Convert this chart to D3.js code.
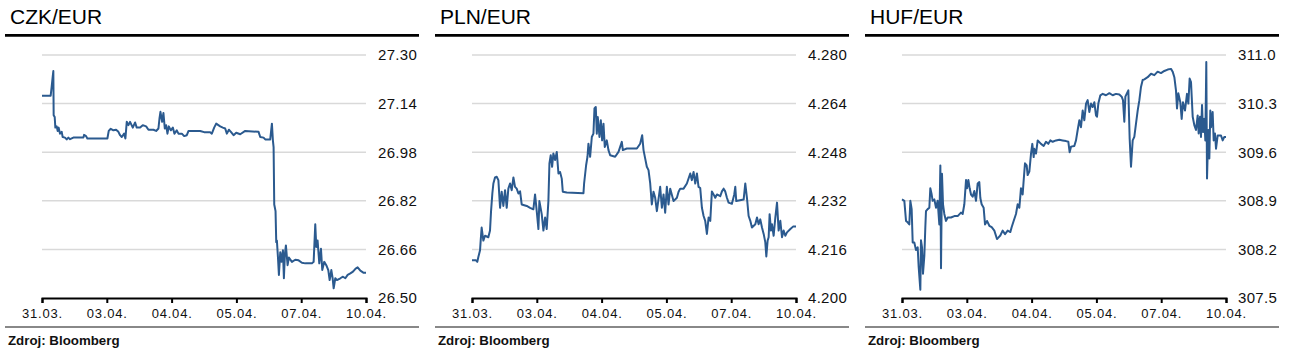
<!DOCTYPE html>
<html>
<head>
<meta charset="utf-8">
<script src="https://cdn.jsdelivr.net/npm/d3@7"></script>
<style>
  body { margin: 0; background: #fff; }
  svg { display: block; font-family: 'Liberation Sans', Arial, sans-serif; }
</style>
</head>
<body>
<svg id="chart" width="1290" height="353"></svg>
<script>
// x is measured in axis intervals (0 = 31.03., 5 = 10.04.)
const dateLabels = ['31.03.', '03.04.', '04.04.', '05.04.', '07.04.', '10.04.']

const titles = ['CZK/EUR', 'PLN/EUR', 'HUF/EUR']
const sourceText = 'Zdroj: Bloomberg'

const czkTicks = [26.5, 26.66, 26.82, 26.98, 27.14, 27.3]
const plnTicks = [4.2, 4.216, 4.232, 4.248, 4.264, 4.28]
const hufTicks = [307.5, 308.2, 308.9, 309.6, 310.3, 311.0]

const czkData = [
  [0, 27.166], [0.134, 27.166], [0.149, 27.195], [0.165, 27.228], [0.175, 27.247], [0.18, 27.102],
  [0.196, 27.096], [0.206, 27.061], [0.227, 27.065], [0.242, 27.05], [0.257, 27.061], [0.278, 27.041],
  [0.304, 27.047], [0.319, 27.03], [0.355, 27.028], [0.381, 27.022], [0.407, 27.028], [0.433, 27.023],
  [0.484, 27.028], [0.639, 27.028], [0.649, 27.037], [0.68, 27.033], [0.7, 27.025], [1.009, 27.025],
  [1.03, 27.05], [1.061, 27.057], [1.102, 27.052], [1.143, 27.054], [1.179, 27.047], [1.205, 27.036],
  [1.231, 27.03], [1.267, 27.041], [1.287, 27.025], [1.308, 27.08], [1.334, 27.069], [1.359, 27.08],
  [1.401, 27.061], [1.437, 27.078], [1.462, 27.061], [1.514, 27.061], [1.555, 27.069], [1.607, 27.065],
  [1.643, 27.054], [1.72, 27.054], [1.761, 27.05], [1.797, 27.058], [1.813, 27.091], [1.828, 27.113],
  [1.854, 27.08], [1.874, 27.109], [1.895, 27.058], [1.916, 27.069], [1.936, 27.041], [1.957, 27.065],
  [1.988, 27.052], [2.019, 27.061], [2.044, 27.041], [2.08, 27.052], [2.106, 27.041], [2.158, 27.041],
  [2.194, 27.033], [2.235, 27.036], [2.261, 27.05], [2.441, 27.05], [2.503, 27.046], [2.595, 27.046],
  [2.621, 27.041], [2.657, 27.061], [2.688, 27.074], [2.75, 27.065], [2.791, 27.061], [2.827, 27.058],
  [2.853, 27.041], [2.884, 27.054], [2.915, 27.047], [2.956, 27.036], [2.997, 27.044], [3.059, 27.039],
  [3.136, 27.05], [3.342, 27.047], [3.368, 27.03], [3.419, 27.028], [3.445, 27.022], [3.522, 27.022],
  [3.548, 27.074], [3.563, 27.019], [3.574, 26.997], [3.584, 26.808], [3.604, 26.786], [3.615, 26.684],
  [3.625, 26.689], [3.641, 26.635], [3.656, 26.576], [3.677, 26.651], [3.697, 26.619], [3.718, 26.657],
  [3.733, 26.565], [3.749, 26.646], [3.764, 26.673], [3.79, 26.608], [3.81, 26.633], [3.857, 26.619],
  [3.908, 26.626], [3.96, 26.624], [4.011, 26.616], [4.063, 26.614], [4.166, 26.614], [4.192, 26.619],
  [4.217, 26.743], [4.233, 26.668], [4.253, 26.689], [4.279, 26.614], [4.305, 26.662], [4.325, 26.592],
  [4.356, 26.619], [4.387, 26.608], [4.418, 26.592], [4.439, 26.559], [4.465, 26.592], [4.485, 26.565],
  [4.501, 26.532], [4.526, 26.565], [4.552, 26.559], [4.604, 26.565], [4.645, 26.57], [4.681, 26.565],
  [4.717, 26.576], [4.758, 26.581], [4.799, 26.587], [4.84, 26.597], [4.871, 26.601], [4.913, 26.59],
  [4.964, 26.583], [5, 26.583]
]

const plnData = [
  [0, 4.2124], [0.062, 4.2124], [0.082, 4.2119], [0.098, 4.2135], [0.124, 4.2157], [0.134, 4.2189],
  [0.149, 4.2232], [0.175, 4.2189], [0.201, 4.2205], [0.252, 4.22], [0.278, 4.2222], [0.294, 4.2286],
  [0.314, 4.2344], [0.33, 4.2377], [0.355, 4.2397], [0.381, 4.2399], [0.407, 4.2388], [0.433, 4.2297],
  [0.458, 4.235], [0.484, 4.2303], [0.51, 4.2355], [0.536, 4.2297], [0.561, 4.236], [0.587, 4.2377],
  [0.613, 4.2355], [0.639, 4.2397], [0.664, 4.2366], [0.69, 4.236], [0.716, 4.2344], [0.742, 4.2351],
  [0.767, 4.2308], [0.845, 4.2303], [0.896, 4.2297], [0.947, 4.2292], [0.973, 4.2341], [0.999, 4.2286],
  [1.025, 4.2227], [1.04, 4.2319], [1.076, 4.2276], [1.102, 4.2222], [1.128, 4.2265], [1.153, 4.2227],
  [1.179, 4.2319], [1.195, 4.2443], [1.215, 4.247], [1.236, 4.2432], [1.256, 4.2476], [1.282, 4.2454],
  [1.308, 4.2481], [1.334, 4.241], [1.359, 4.2415], [1.385, 4.2393], [1.401, 4.235], [1.462, 4.2347],
  [1.72, 4.2345], [1.73, 4.2377], [1.761, 4.2437], [1.782, 4.2465], [1.797, 4.2508], [1.823, 4.2465],
  [1.849, 4.253], [1.874, 4.2541], [1.89, 4.2624], [1.91, 4.2629], [1.926, 4.2541], [1.941, 4.2596],
  [1.967, 4.253], [1.988, 4.2585], [2.008, 4.2519], [2.029, 4.2574], [2.049, 4.2497], [2.08, 4.2519],
  [2.106, 4.2487], [2.132, 4.247], [2.209, 4.2465], [2.261, 4.2481], [2.312, 4.2514], [2.328, 4.2487],
  [2.389, 4.2492], [2.544, 4.2492], [2.595, 4.2508], [2.626, 4.2536], [2.647, 4.2487], [2.673, 4.2459],
  [2.698, 4.2432], [2.724, 4.2421], [2.75, 4.2377], [2.775, 4.2308], [2.801, 4.235], [2.827, 4.233],
  [2.853, 4.2286], [2.904, 4.2366], [2.93, 4.2297], [2.956, 4.2341], [2.981, 4.2281], [3.007, 4.2366],
  [3.033, 4.2308], [3.059, 4.236], [3.11, 4.2319], [3.162, 4.233], [3.188, 4.235], [3.213, 4.236],
  [3.265, 4.236], [3.316, 4.2377], [3.368, 4.241], [3.393, 4.2388], [3.419, 4.2415], [3.445, 4.2377],
  [3.471, 4.241], [3.496, 4.2366], [3.522, 4.2362], [3.548, 4.2297], [3.574, 4.227], [3.599, 4.2254],
  [3.625, 4.2211], [3.651, 4.2265], [3.677, 4.2254], [3.702, 4.2351], [3.728, 4.2341], [3.754, 4.233],
  [3.78, 4.2341], [3.831, 4.2335], [3.857, 4.2351], [3.883, 4.236], [3.908, 4.2351], [3.934, 4.233],
  [3.96, 4.2314], [4.011, 4.231], [4.047, 4.2341], [4.063, 4.2366], [4.078, 4.2319], [4.192, 4.2324],
  [4.217, 4.2377], [4.243, 4.233], [4.269, 4.227], [4.295, 4.2254], [4.32, 4.2232], [4.372, 4.2243],
  [4.398, 4.2265], [4.423, 4.2243], [4.449, 4.2259], [4.475, 4.2232], [4.501, 4.2211], [4.526, 4.2184],
  [4.542, 4.2137], [4.562, 4.2189], [4.578, 4.22], [4.593, 4.2276], [4.614, 4.2222], [4.629, 4.2243],
  [4.655, 4.2205], [4.681, 4.2265], [4.707, 4.2314], [4.732, 4.2222], [4.758, 4.2254], [4.784, 4.22],
  [4.809, 4.2222], [4.835, 4.2205], [4.861, 4.2216], [4.913, 4.2227], [4.954, 4.2235], [5, 4.2235]
]

const hufData = [
  [0, 308.92], [0.036, 308.9], [0.062, 308.61], [0.087, 308.59], [0.113, 308.56], [0.129, 308.9],
  [0.149, 308.78], [0.165, 308.3], [0.19, 308.3], [0.216, 308.19], [0.242, 308.23], [0.257, 307.95],
  [0.283, 307.62], [0.293, 308.33], [0.309, 308.23], [0.324, 307.85], [0.345, 308.11], [0.36, 308.52],
  [0.37, 308.75], [0.396, 308.78], [0.422, 308.8], [0.437, 309.08], [0.458, 308.99], [0.473, 308.9],
  [0.499, 308.92], [0.525, 308.8], [0.55, 308.9], [0.576, 308.56], [0.592, 309.41], [0.602, 307.93],
  [0.617, 309.29], [0.633, 308.85], [0.653, 308.71], [0.679, 308.61], [0.705, 308.66], [0.756, 308.66],
  [0.808, 308.68], [0.859, 308.68], [0.91, 308.73], [0.936, 308.71], [0.962, 308.85], [0.988, 309.2],
  [1.003, 309.08], [1.024, 309.2], [1.044, 309.08], [1.065, 308.99], [1.091, 308.96], [1.116, 309.04],
  [1.142, 308.9], [1.168, 309.15], [1.193, 309.17], [1.209, 308.94], [1.229, 308.85], [1.26, 308.8],
  [1.281, 308.56], [1.312, 308.61], [1.348, 308.54], [1.384, 308.52], [1.425, 308.47], [1.466, 308.35],
  [1.487, 308.37], [1.517, 308.4], [1.553, 308.47], [1.59, 308.42], [1.631, 308.47], [1.672, 308.45],
  [1.692, 308.52], [1.723, 308.61], [1.759, 308.71], [1.785, 308.85], [1.811, 308.8], [1.836, 309.08],
  [1.862, 308.99], [1.878, 309.2], [1.898, 309.44], [1.924, 309.41], [1.939, 309.27], [1.965, 309.32],
  [1.991, 309.58], [2.011, 309.72], [2.032, 309.53], [2.042, 309.65], [2.068, 309.58], [2.094, 309.77],
  [2.145, 309.72], [2.186, 309.69], [2.222, 309.75], [2.258, 309.72], [2.289, 309.77], [2.325, 309.75],
  [2.377, 309.77], [2.428, 309.78], [2.479, 309.77], [2.531, 309.76], [2.567, 309.75], [2.587, 309.6],
  [2.608, 309.68], [2.659, 309.69], [2.685, 309.77], [2.711, 309.92], [2.737, 310.06], [2.762, 309.96],
  [2.788, 310.2], [2.814, 310.06], [2.84, 310.3], [2.865, 310.35], [2.891, 310.18], [2.917, 310.3],
  [2.942, 310.25], [2.968, 310.32], [2.994, 310.13], [3.009, 310.11], [3.03, 310.3], [3.061, 310.42],
  [3.097, 310.44], [3.148, 310.42], [3.2, 310.45], [3.251, 310.42], [3.302, 310.44], [3.354, 310.43],
  [3.39, 310.4], [3.41, 310.35], [3.431, 310.04], [3.447, 310.4], [3.467, 310.44], [3.493, 310.49],
  [3.513, 309.8], [3.534, 309.39], [3.56, 309.77], [3.585, 309.82], [3.611, 310.01], [3.637, 310.2],
  [3.663, 310.35], [3.688, 310.54], [3.714, 310.64], [3.74, 310.65], [3.791, 310.68], [3.843, 310.73],
  [3.894, 310.71], [3.945, 310.76], [3.997, 310.74], [4.048, 310.77], [4.1, 310.79], [4.151, 310.8],
  [4.177, 310.76], [4.203, 310.68], [4.228, 310.49], [4.244, 310.23], [4.264, 310.45], [4.295, 310.32],
  [4.316, 310.08], [4.336, 310.32], [4.367, 310.2], [4.398, 310.44], [4.419, 310.3], [4.439, 310.66],
  [4.46, 310.61], [4.486, 310.11], [4.511, 309.99], [4.537, 309.92], [4.563, 310.13], [4.578, 309.87],
  [4.599, 310.11], [4.614, 309.82], [4.63, 310.28], [4.645, 309.89], [4.666, 310.08], [4.681, 309.77],
  [4.696, 310.9], [4.707, 309.22], [4.727, 309.92], [4.743, 309.51], [4.758, 310.2], [4.769, 309.96],
  [4.794, 310.18], [4.81, 309.77], [4.83, 309.87], [4.846, 309.65], [4.871, 309.84], [4.923, 309.84],
  [4.949, 309.77], [4.974, 309.82], [5, 309.82]
]

const panels = [
  { title: titles[0], data: czkData, ticks: czkTicks, fmt: '.2f' },
  { title: titles[1], data: plnData, ticks: plnTicks, fmt: '.3f' },
  { title: titles[2], data: hufData, ticks: hufTicks, fmt: '.1f' }
]

const panelWidth = 430
const plotLeft = 42
const plotRight = 366
const plotTop = 55
const plotBottom = 298
const lineColor = '#2b5a8f'

const svg = d3.select('#chart')

panels.forEach(function(p, i) {
  plot_panel(svg.append('g').attr('transform', `translate(${i * panelWidth},0)`), p)
})

function plot_panel(g, p) {
  const xSc = d3
    .scaleLinear()
    .domain([0, dateLabels.length - 1])
    .range([plotLeft, plotRight])

  const ySc = d3
    .scaleLinear()
    .domain(d3.extent(p.ticks))
    .range([plotBottom, plotTop])

  // title and heavy rule
  g.append('text')
    .attr('x', 10)
    .attr('y', 24)
    .style('font-size', '21px')
    .attr('fill', '#000')
    .text(p.title)

  g.append('line')
    .attr('x1', 5)
    .attr('x2', 419)
    .attr('y1', 35.3)
    .attr('y2', 35.3)
    .attr('stroke', '#000')
    .attr('stroke-width', 2.7)

  // horizontal grid
  g.selectAll('.grid')
    .data(p.ticks.slice(1))
    .enter()
    .append('line')
    .attr('x1', plotLeft)
    .attr('x2', plotRight)
    .attr('y1', d => ySc(d))
    .attr('y2', d => ySc(d))
    .attr('stroke', '#d9d9d9')
    .attr('stroke-width', 1.5)

  // y labels on the right
  g.selectAll('.ylab')
    .data(p.ticks)
    .enter()
    .append('text')
    .attr('x', 378)
    .attr('y', d => ySc(d))
    .attr('dy', '0.36em')
    .style('font-size', '15px')
    .style('letter-spacing', '0.3px')
    .attr('fill', '#111')
    .text(d => d3.format(p.fmt)(d))

  // line
  const line = d3
    .line()
    .x(d => xSc(d[0]))
    .y(d => ySc(d[1]))

  g.append('path')
    .datum(p.data)
    .attr('d', line)
    .attr('fill', 'none')
    .attr('stroke', lineColor)
    .attr('stroke-width', 2)
    .attr('stroke-linejoin', 'round')

  // x axis
  const xAxis = d3
    .axisBottom(xSc)
    .tickValues(d3.range(dateLabels.length))
    .tickFormat(i => dateLabels[i])
    .tickSize(5)
    .tickPadding(6)

  const ax = g.append('g')
    .attr('transform', `translate(0,${plotBottom})`)
    .call(xAxis)

  ax.select('.domain').attr('stroke', '#000').attr('stroke-width', 2)
  ax.selectAll('.tick line').attr('stroke', '#000').attr('stroke-width', 2)
  ax.selectAll('.tick text')
    .style('font-size', '13px')
    .style('letter-spacing', '0.8px')
    .style('font-family', "'Liberation Sans', Arial, sans-serif")
    .attr('fill', '#111')

  // bottom rule and source
  g.append('line')
    .attr('x1', 5)
    .attr('x2', 419)
    .attr('y1', 327)
    .attr('y2', 327)
    .attr('stroke', '#888')
    .attr('stroke-width', 2)

  g.append('text')
    .attr('x', 8)
    .attr('y', 345)
    .style('font-size', '13.3px')
    .style('font-weight', 'bold')
    .attr('fill', '#111')
    .text(sourceText)
}
</script>
</body>
</html>
